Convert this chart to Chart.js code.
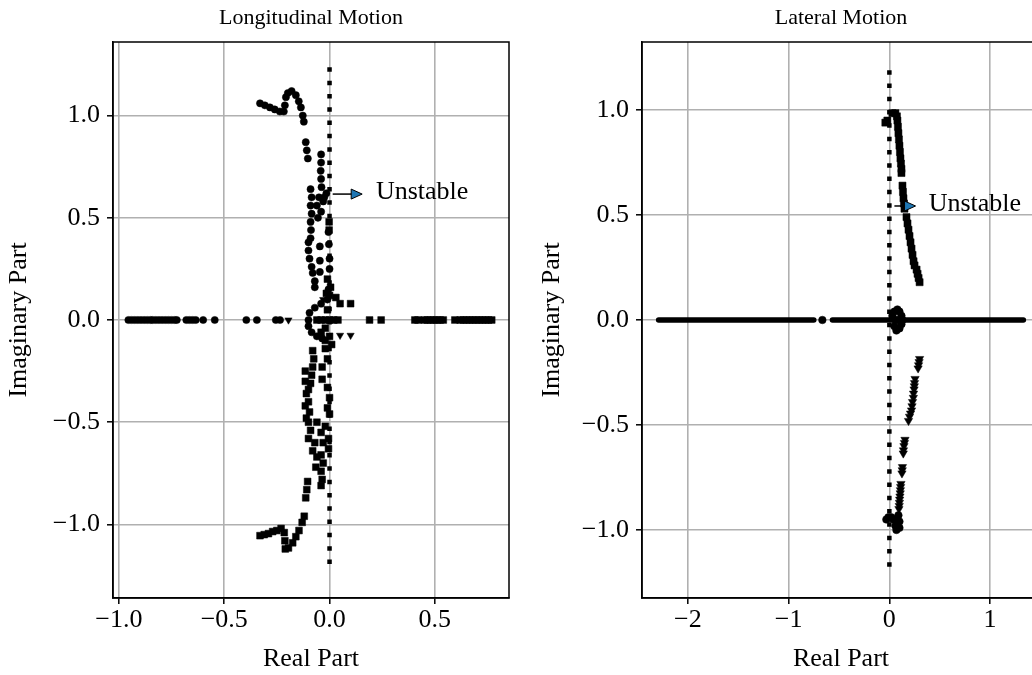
<!DOCTYPE html>
<html>
<head>
<meta charset="utf-8">
<script src="https://cdn.jsdelivr.net/npm/chart.js@4/dist/chart.umd.min.js"></script>
<style>
  html, body { margin: 0; padding: 0; background: #fff; width: 1032px; height: 675px; overflow: hidden; }
  #lon { position: absolute; left: 0; top: 0; }
  #lat { position: absolute; left: 533px; top: 0; }
</style>
</head>
<body>
<canvas id="lon" width="530" height="675"></canvas>
<canvas id="lat" width="530" height="675"></canvas>
<script>
// ---- longitudinal eigenvalues (real, imag) ----
const lonCircles = [
  [-0.33,1.06],[-0.307,1.05],[-0.283,1.04],[-0.26,1.03],[-0.236,1.02],[-0.217,1.02],[-0.212,1.05],
  [-0.207,1.09],[-0.198,1.11],[-0.18,1.12],[-0.16,1.10],[-0.146,1.07],[-0.136,1.04],[-0.127,1.0],
  [-0.122,0.97],[-0.113,0.87],[-0.108,0.83],[-0.103,0.79],
  [-0.04,0.81],[-0.04,0.77],[-0.042,0.73],[-0.04,0.69],[-0.038,0.65],[-0.015,0.62],[-0.025,0.6],
  [-0.09,0.64],[-0.085,0.6],[-0.09,0.56],[-0.085,0.52],[-0.09,0.48],[-0.088,0.44],[-0.09,0.4],
  [-0.05,0.6],[-0.06,0.56],[-0.04,0.53],[-0.055,0.5],[-0.03,0.58],
  [-0.1,0.38],[-0.1,0.34],[-0.095,0.3],[-0.085,0.26],[-0.08,0.23],[-0.07,0.19],[-0.07,0.16],
  [-0.046,0.36],[-0.046,0.29],[-0.046,0.235],
  [-0.005,0.43],[-0.003,0.37],[0,0.3],[0,0.25],[-0.005,0.15],
  [-0.01,0.1],[-0.04,0.08],[-0.07,0.06],[-0.095,0.035],[-0.1,0.0],[-0.1,-0.03],[-0.085,-0.06],
  [-0.06,-0.08],[-0.035,-0.09],
  [-0.955,0],[-0.94,0],[-0.925,0],[-0.91,0],[-0.895,0],[-0.88,0],[-0.865,0],[-0.85,0],[-0.84,0],
  [-0.825,0],[-0.81,0],[-0.795,0],[-0.78,0],[-0.765,0],[-0.75,0],[-0.735,0],[-0.725,0],
  [-0.68,0],[-0.665,0],[-0.65,0],[-0.635,0],[-0.6,0],[-0.545,0],[-0.395,0],[-0.345,0],
  [-0.255,0],[-0.235,0]
];
const lonSquares = [
  [-0.33,-1.055],[-0.31,-1.05],[-0.29,-1.045],[-0.27,-1.035],[-0.25,-1.03],[-0.23,-1.02],
  [-0.215,-1.04],[-0.212,-1.08],[-0.21,-1.12],[-0.195,-1.115],[-0.175,-1.09],[-0.16,-1.06],
  [-0.145,-1.03],[-0.13,-0.99],[-0.12,-0.96],[-0.113,-0.87],[-0.108,-0.83],[-0.104,-0.79],
  [-0.04,-0.06],[-0.02,-0.1],[0.0,-0.08],[0.01,-0.12],[-0.08,-0.15],[-0.075,-0.19],[-0.08,-0.23],
  [-0.085,-0.27],[-0.09,-0.31],[-0.1,-0.34],[-0.115,-0.25],[-0.115,-0.3],[-0.11,-0.36],
  [-0.115,-0.42],[-0.11,-0.48],[-0.02,-0.14],[-0.01,-0.19],[-0.035,-0.23],[-0.035,-0.29],
  [-0.01,-0.33],[0,-0.38],[-0.01,-0.43],[0,-0.46],[-0.1,-0.5],[-0.09,-0.54],[-0.1,-0.58],
  [-0.07,-0.6],[-0.08,-0.64],[-0.04,-0.55],[-0.03,-0.6],[-0.005,-0.58],[-0.005,-0.63],
  [-0.04,-0.66],[-0.03,-0.7],[-0.04,-0.74],[-0.035,-0.78],[-0.04,-0.81],[-0.06,-0.67],[-0.065,-0.72],
  [-0.1,-0.4],[-0.095,-0.45],[-0.06,-0.5],[-0.02,-0.52],
  [0.0,0.12],[0.03,0.11],[0.05,0.08],[0.1,0.08],[-0.06,0],[-0.04,0],[-0.02,0],[0.0,0],[0.02,0],
  [0.04,0],[-0.01,0.05],[-0.02,-0.04],[-0.01,0.2],[0.005,0.16],[-0.015,0.13],[-0.002,0.48],[-0.002,0.44],
  [0.19,0],[0.245,0],[0.405,0],[0.42,0],[0.45,0],[0.465,0],[0.48,0],[0.495,0],[0.51,0],[0.525,0],
  [0.54,0],[0.595,0],[0.62,0],[0.635,0],[0.65,0],[0.665,0],[0.68,0],[0.695,0],[0.71,0],[0.725,0],
  [0.74,0],[0.755,0],[0.77,0]
];
const lonTriangles = [[0.05,-0.075],[0.1,-0.075],[-0.195,0],[-0.03,0.1]];
const lonImagAxis = [[0,1.236],[0,-1.236]];

// ---- lateral eigenvalues (real, imag) ----
const latSquares = [
  [-0.04,0.94],[-0.02,0.95],[0.03,0.985],[0.06,0.985],[0.075,0.97],[0.08,0.95],[0.085,0.92],
  [0.09,0.89],[0.095,0.86],[0.1,0.83],[0.105,0.8],[0.11,0.77],[0.115,0.745],[0.12,0.72],[0.12,0.7],
  [0.13,0.64],[0.135,0.61],[0.14,0.58],[0.145,0.555],[0.15,0.53],[0.17,0.49],[0.18,0.46],
  [0.19,0.43],[0.2,0.4],[0.21,0.37],[0.22,0.34],[0.23,0.31],[0.24,0.28],[0.25,0.26],
  [0.27,0.24],[0.28,0.22],[0.29,0.2],[0.3,0.18]
];
const latTriangles = [
  [0.3,-0.185],[0.295,-0.2],[0.29,-0.215],[0.285,-0.23],[0.255,-0.28],[0.25,-0.3],[0.248,-0.315],
  [0.245,-0.33],[0.24,-0.35],[0.238,-0.37],[0.23,-0.39],[0.225,-0.41],[0.22,-0.43],[0.21,-0.445],
  [0.2,-0.46],[0.19,-0.48],[0.155,-0.57],[0.15,-0.585],[0.145,-0.6],[0.14,-0.62],[0.138,-0.635],
  [0.13,-0.7],[0.128,-0.715],[0.125,-0.73],[0.115,-0.78],[0.112,-0.795],[0.11,-0.81],[0.108,-0.825],
  [0.105,-0.84],[0.102,-0.855],[0.1,-0.87],[0.098,-0.885],[0.095,-0.9]
];
const latCircles = [
  [0.09,-0.93],[0.08,-0.96],[0.06,-0.98],[0.04,-0.95],[0.02,-0.94],[-0.01,-0.94],[-0.03,-0.95],
  [0.1,-0.96],[0.07,-1.0],[0.1,-0.99],
  [0.03,0.02],[0.05,0.04],[0.08,0.05],[0.1,0.04],[0.12,0.02],[0.13,0],[0.12,-0.02],[0.1,-0.04],
  [0.07,-0.05],[0.05,-0.03],[0.06,0.0],[0.09,0.0],
  [-0.665,0]
];
const latRealA = [[-2.29,0],[-0.75,0]];
const latRealB = [[-0.565,0],[1.33,0]];
const latImagAxis = [[0,1.19],[0,-1.19]];

// ---- axes ----
const lonXTicks = [-1.0, -0.5, 0.0, 0.5];
const lonYTicks = [-1.0, -0.5, 0.0, 0.5, 1.0];
const latXTicks = [-2, -1, 0, 1];
const latYTicks = [-1.0, -0.5, 0.0, 0.5, 1.0];
const lonXRange = [-1.028, 0.852];
const lonYRange = [-1.36, 1.36];
const latXRange = [-2.455, 1.495];
const latYRange = [-1.324, 1.324];

const lonNote = { title: 'Longitudinal Motion', tail: [0.015, 0.616], tip: [0.155, 0.616], textX: 0.22 };
const latNote = { title: 'Lateral Motion', tail: [0.05, 0.543], tip: [0.26, 0.543], textX: 0.39 };

const FONT = 'Liberation Serif, Times New Roman, serif';
const toXY = pts => pts.map(p => ({ x: p[0], y: p[1] }));
const minus = s => s.replace('-', '\u2212');

// frame, title over the plot area, and the "Unstable" arrow
const notePlugin = {
  id: 'unstableNote',
  afterDraw(chart, args, opts) {
    const { ctx, chartArea: a } = chart;
    const xs = chart.scales.x, ys = chart.scales.y;
    ctx.save();
    ctx.strokeStyle = '#000';
    ctx.lineWidth = 1.5;
    ctx.strokeRect(a.left, a.top, a.right - a.left, a.bottom - a.top);

    ctx.fillStyle = '#000';
    ctx.font = '22px ' + FONT;
    ctx.textAlign = 'center';
    ctx.textBaseline = 'middle';
    ctx.fillText(opts.title, (a.left + a.right) / 2, 18);

    const x0 = xs.getPixelForValue(opts.tail[0]);
    const x1 = xs.getPixelForValue(opts.tip[0]);
    const py = ys.getPixelForValue(opts.tail[1]);
    ctx.beginPath();
    ctx.moveTo(x0, py);
    ctx.lineTo(x1 - 8, py);
    ctx.stroke();
    ctx.beginPath();
    ctx.moveTo(x1, py);
    ctx.lineTo(x1 - 11, py - 5);
    ctx.lineTo(x1 - 11, py + 5);
    ctx.closePath();
    ctx.fillStyle = '#1f77b4';
    ctx.fill();
    ctx.lineWidth = 1;
    ctx.stroke();

    ctx.fillStyle = '#000';
    ctx.font = '26px ' + FONT;
    ctx.textAlign = 'left';
    ctx.fillText('Unstable', xs.getPixelForValue(opts.textX), py - 2);
    ctx.restore();
  }
};

function markerSet(pts, style, radius, rot) {
  return {
    data: toXY(pts), showLine: false, pointStyle: style, pointRadius: radius,
    pointRotation: rot || 0, pointBackgroundColor: '#000', pointBorderColor: '#000',
    pointBorderWidth: 0.5
  };
}
function lineSet(pts, width, dash) {
  return {
    data: toXY(pts), showLine: true, pointRadius: 0, borderColor: '#000',
    borderWidth: width, borderDash: dash || [], borderCapStyle: dash ? 'butt' : 'round'
  };
}

function makeChart(id, datasets, xr, yr, xt, yt, fmt, yWidth, note) {
  const axisBase = (range, ticks, f, label) => ({
    type: 'linear', min: range[0], max: range[1], z: 1,
    afterBuildTicks: s => { s.ticks = ticks.map(v => ({ value: v })); },
    grid: { color: '#b0b0b0', lineWidth: 1.6, tickColor: '#000', tickWidth: 1.5, tickLength: 6 },
    border: { display: true, color: '#000', width: 1.5 },
    ticks: { color: '#000', font: { family: FONT, size: 26 }, callback: v => minus(f(v)) },
    title: { display: true, text: label, color: '#000', font: { family: FONT, size: 26 } }
  });
  const x = axisBase(xr, xt, fmt, 'Real Part');
  x.ticks.padding = 1;
  x.ticks.maxRotation = 0;
  x.title.padding = { top: 0, bottom: 0 };
  x.afterFit = s => { s.height = 77; };
  const y = axisBase(yr, yt, v => v.toFixed(1), 'Imaginary Part');
  y.ticks.padding = 7;
  y.title.padding = { top: 4, bottom: 0 };
  y.afterFit = s => { s.width = yWidth; };

  return new Chart(document.getElementById(id), {
    type: 'scatter',
    data: { datasets },
    options: {
      responsive: false, animation: false,
      layout: { padding: { left: 0, right: id === 'lon' ? 21 : 23, top: 42, bottom: 0 } },
      scales: { x, y },
      plugins: {
        legend: { display: false }, tooltip: { enabled: false }, title: { display: false },
        unstableNote: note
      }
    },
    plugins: [notePlugin]
  });
}

makeChart('lon', [
  lineSet(lonImagAxis, 4.5, [4.5, 8.8]),
  markerSet(lonTriangles, 'triangle', 4.2, 180),
  markerSet(lonSquares, 'rect', 4.8),
  markerSet(lonCircles, 'circle', 3.6)
], lonXRange, lonYRange, lonXTicks, lonYTicks, v => v.toFixed(1), 113, lonNote);

makeChart('lat', [
  lineSet(latImagAxis, 4.5, [4.5, 8.8]),
  lineSet(latRealA, 5.5),
  lineSet(latRealB, 5.5),
  markerSet(latTriangles, 'triangle', 4.8, 180),
  markerSet(latSquares, 'rect', 5),
  markerSet(latCircles, 'circle', 3.8)
], latXRange, latYRange, latXTicks, latYTicks, v => v.toFixed(0), 109, latNote);
</script>
</body>
</html>
